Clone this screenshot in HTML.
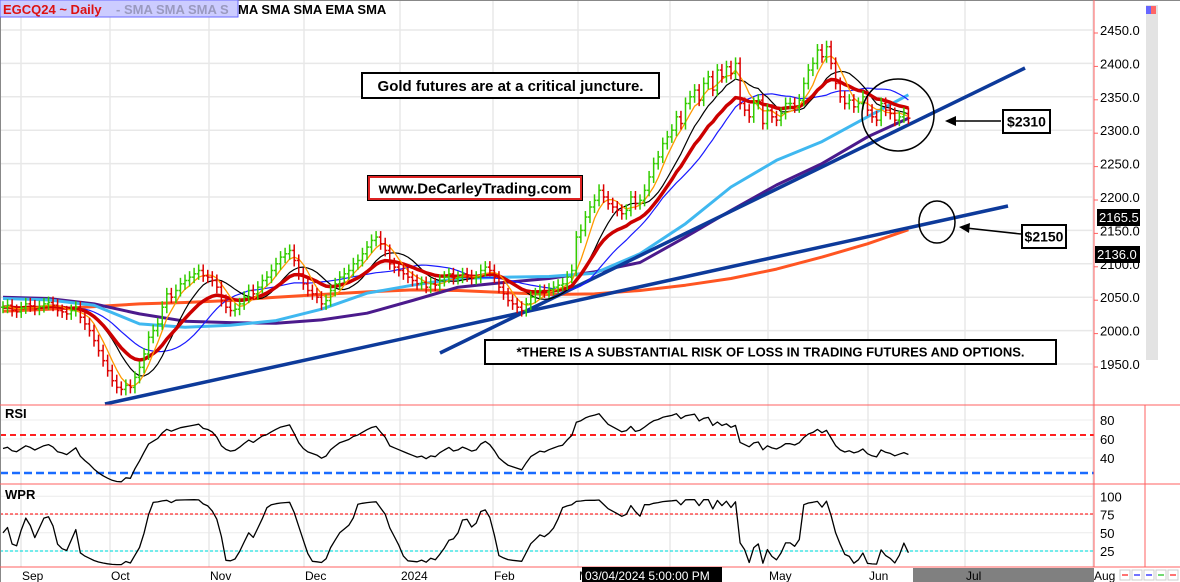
<!DOCTYPE html>
<html><head><meta charset="utf-8"><style>
html,body{margin:0;padding:0;background:#fff;}
body{width:1180px;height:582px;overflow:hidden;position:relative;font-family:"Liberation Sans",sans-serif;}
svg{position:absolute;left:0;top:0;}
</style></head><body>
<svg id="chart" width="1180" height="582" viewBox="0 0 1180 582" xmlns="http://www.w3.org/2000/svg"></svg>
<script>
// ---- data ----
const closes = [
2035,2038,2030,2028,2034,2040,2037,2032,2036,2040,
2042,2038,2030,2028,2025,2030,2035,2020,2010,2000,
1985,1970,1955,1940,1925,1915,1912,1918,1915,1930,
1945,1965,1990,2000,2010,2035,2055,2050,2060,2070,
2075,2080,2085,2090,2082,2080,2075,2065,2045,2035,
2030,2032,2040,2050,2060,2055,2065,2075,2080,2090,
2100,2110,2115,2120,2105,2085,2070,2060,2055,2050,
2040,2045,2060,2070,2080,2085,2090,2100,2105,2115,
2125,2135,2140,2130,2120,2100,2095,2090,2085,2080,
2075,2070,2072,2065,2070,2068,2075,2080,2085,2078,
2080,2085,2082,2078,2080,2090,2095,2090,2080,2065,
2055,2045,2040,2035,2030,2040,2050,2055,2060,2058,
2062,2065,2068,2070,2080,2090,2140,2150,2170,2185,
2195,2210,2200,2190,2185,2180,2175,2180,2200,2190,
2195,2210,2230,2250,2260,2280,2290,2300,2320,2310,
2340,2350,2360,2345,2370,2380,2360,2390,2380,2395,
2385,2400,2340,2330,2320,2340,2345,2310,2330,2320,
2315,2325,2340,2340,2335,2345,2370,2390,2400,2420,
2410,2425,2400,2370,2350,2340,2345,2335,2340,2350,
2330,2320,2315,2340,2330,2325,2315,2320,2325,2318];
const slowIdx = [0,10,20,30,40,50,60,70,80,90,100,110,120,130,140,150,160,170,180,190,199];
const sma50 = [2048,2046,2038,2010,2005,2008,2015,2032,2056,2068,2078,2080,2081,2086,2115,2160,2215,2255,2283,2320,2353];
const sma100 = [2050,2048,2040,2025,2014,2012,2011,2016,2026,2045,2065,2072,2078,2088,2102,2140,2180,2218,2250,2290,2318];
const sma200 = [2029,2032,2036,2040,2042,2045,2050,2054,2058,2061,2060,2057,2054,2055,2060,2068,2078,2092,2110,2130,2151];
const priceTicks = [1950,2000,2050,2100,2150,2200,2250,2300,2350,2400,2450];
const rsiTicks = [40,60,80];
const wprTicks = [25,50,75,100];
const monthLabels = ["Sep","Oct","Nov","Dec","2024","Feb","Mar","Apr","May","Jun","Jul","Aug"];
const monthX = [21,110,209,304,400,493,578,670,768,868,965,1093];

// ---- axes ----
const X0=3, DX=4.55;
const xb = i => X0 + DX*i;
const yp = p => 30 + (2450-p)*0.668;
const yr = v => 458 - (v-40)*0.95;
const yw = v => 551 - (v-25)*0.73;

const svg=document.getElementById('chart');
const NS='http://www.w3.org/2000/svg';
function mk(tag,attrs,parent){const e=document.createElementNS(NS,tag);for(const k in attrs)e.setAttribute(k,attrs[k]);(parent||svg).appendChild(e);return e;}

// grid
const grid=mk('g',{});


priceTicks.forEach(p=>mk('line',{x1:0,x2:1094,y1:yp(p),y2:yp(p),stroke:'#e8e8e8','stroke-width':1.5},grid));
[yr(40),yr(60),yr(80),yw(25),yw(50),yw(75),yw(100)].forEach(y=>mk('line',{x1:0,x2:1094,y1:y,y2:y,stroke:'#ececec','stroke-width':1},grid));
monthX.forEach(x=>mk('line',{x1:x,x2:x,y1:0,y2:567,stroke:'#e8e8e8','stroke-width':1.5},grid));

// moving averages
function sma(n){return closes.map((c,i)=>{let s=0,k=0;for(let j=Math.max(0,i-n+1);j<=i;j++){s+=closes[j];k++;}return s/k;});}
function ema(n){const a=2/(n+1);let e=closes[0];return closes.map(c=>e=e+a*(c-e));}
function poly(vals,xf,yf,color,w,name){
  const d=vals.map((v,i)=>(i?'L':'M')+xf(i).toFixed(1)+' '+yf(v).toFixed(1)).join(' ');
  const p=mk('path',{d:d,fill:'none',stroke:color,'stroke-width':w,'stroke-linejoin':'round'});
  
  
  return p;
}
poly(sma200,i=>xb(slowIdx[i]),yp,'#ff5522',3,'sma-200-line');
poly(sma100,i=>xb(slowIdx[i]),yp,'#4b1a8c',3,'sma-100-line');
poly(sma50,i=>xb(slowIdx[i]),yp,'#3fb8f0',3,'sma-50-line');

// trendlines
const tl1=mk('line',{x1:105,y1:404,x2:1008,y2:206,stroke:'#0d3a9a','stroke-width':3.5});


const tl2=mk('line',{x1:440,y1:353,x2:1025,y2:68,stroke:'#0d3a9a','stroke-width':3.5});



poly(sma(20),xb,yp,'#1a1aff',1.2,'sma-20-line');
poly(sma(10),xb,yp,'#000',1.2,'sma-10-line');
poly(ema(16),xb,yp,'#cc0000',3.5,'ema-line');
poly(sma(5),xb,yp,'#ff9900',1.3,'sma-5-line');

// price bars
const bars=mk('g',{});


const highs=[],lows=[];
closes.forEach((c,i)=>{
  const o=i?closes[i-1]:c;
  const h=Math.max(o,c)+9, l=Math.min(o,c)-9;
  highs.push(h);lows.push(l);
  const col=c>=o?'#33cc00':'#dd0000';
  const x=xb(i);
  const b=mk('g',{stroke:col,'stroke-width':1.5},bars);
  
  
  mk('line',{x1:x,x2:x,y1:yp(h),y2:yp(l)},b);
  mk('line',{x1:x-2,x2:x,y1:yp(o),y2:yp(o)},b);
  mk('line',{x1:x,x2:x+2,y1:yp(c),y2:yp(c)},b);
});

// RSI (warm-up seeded)
const rsi=[];{let ag=4,al=4;closes.forEach((c,i)=>{if(i===0){rsi.push(50);return;}const d=c-closes[i-1];const g=Math.max(d,0),l=Math.max(-d,0);ag=(ag*13+g)/14;al=(al*13+l)/14;rsi.push(al===0?100:100-100/(1+ag/al));});}
const wpr=closes.map((c,i)=>{let h=-1e9,l=1e9;for(let j=Math.max(0,i-13);j<=i;j++){h=Math.max(h,highs[j]);l=Math.min(l,lows[j]);}return h===l?50:100*(c-l)/(h-l);});

function dash(y,color,w,da,name){const e=mk('line',{x1:0,x2:1094,y1:y,y2:y,stroke:color,'stroke-width':w,'stroke-dasharray':da});}
dash(435,'#ff2020',2,'6 4','rsi-overbought-line');
dash(473,'#1a6cff',2.5,'8 4','rsi-oversold-line');
dash(514,'#ff3030',1.3,'3 2','wpr-overbought-line');
dash(551,'#20e0e0',1.3,'3 2','wpr-oversold-line');
poly(rsi,xb,yr,'#000',1.3,'rsi-line');
poly(wpr,xb,yw,'#000',1.3,'wpr-line');

// panel frames
mk('line',{x1:0.5,y1:0,x2:0.5,y2:582,stroke:'#888','stroke-width':1});
mk('line',{x1:0,y1:0.5,x2:1180,y2:0.5,stroke:'#888','stroke-width':1});
mk('line',{x1:1094,y1:0,x2:1094,y2:567,stroke:'#ff6060','stroke-width':1});
mk('line',{x1:0,y1:405,x2:1180,y2:405,stroke:'#ff6060','stroke-width':1});
mk('line',{x1:0,y1:484,x2:1180,y2:484,stroke:'#ff6060','stroke-width':1});
mk('line',{x1:0,y1:567,x2:1180,y2:567,stroke:'#ff6060','stroke-width':1});
mk('line',{x1:1145,y1:405,x2:1145,y2:567,stroke:'#ff6060','stroke-width':1});
mk('rect',{x:1146,y:5,width:12,height:355,fill:'#e3e3e3'});
mk('rect',{x:1146,y:6,width:5,height:8,fill:'#6666ff'});
mk('rect',{x:1151,y:6,width:5,height:8,fill:'#ff6666'});

function txt(x,y,s,attrs,name,inter){const t=mk('text',Object.assign({x:x,y:y,'font-family':'Liberation Sans, sans-serif'},attrs));t.textContent=s;return t;}
// axis labels
priceTicks.forEach(p=>{mk('line',{x1:1094,x2:1098,y1:yp(p)+3,y2:yp(p)+3,stroke:'#ff6060'});txt(1100,yp(p)+5,p.toFixed(1),{'font-size':13,fill:'#000'},'price-tick-label');});
rsiTicks.forEach(v=>txt(1100,yr(v)+5,String(v),{'font-size':13},'rsi-tick-label'));
wprTicks.forEach(v=>txt(1100,yw(v)+5,String(v),{'font-size':13},'wpr-tick-label'));
// last price tags
mk('rect',{x:1097,y:209,width:43,height:17,fill:'#000'});
txt(1099,222,'2165.5',{'font-size':13,fill:'#fff'},'last-price-tag');
mk('rect',{x:1095,y:246,width:45,height:17,fill:'#000'});
txt(1097,259,'2136.0',{'font-size':13,fill:'#fff'},'sma-price-tag');

// date axis
mk('rect',{x:913,y:568,width:181,height:14,fill:'#808080'});
monthLabels.forEach((m,i)=>txt(monthX[i]+1,580,m,{'font-size':12,fill:'#000'},'month-label'));
mk('rect',{x:582,y:567,width:140,height:15,fill:'#000'});
txt(585,580,'03/04/2024 5:00:00 PM',{'font-size':12,fill:'#fff'},'crosshair-date');
['#f44','#44f','#44f','#4c4','#f44'].forEach((c,i)=>{mk('rect',{x:1120+i*12,y:570,width:10,height:10,fill:'#fff',stroke:'#ccc'});mk('line',{x1:1122+i*12,x2:1128+i*12,y1:575,y2:575,stroke:c,'stroke-width':1.5});});

// panel titles
txt(5,418,'RSI',{'font-size':13,'font-weight':'bold'},'rsi-title');
txt(5,499,'WPR',{'font-size':13,'font-weight':'bold'},'wpr-title');

// header
mk('rect',{x:0,y:0,width:238,height:17,fill:'#ccccff',stroke:'#6a6aff','stroke-width':1});
txt(3,14,'EGCQ24 ~ Daily',{'font-size':13,'font-weight':'bold',fill:'#dd1111'},'symbol-title');
txt(116,14,'-  SMA SMA SMA S',{'font-size':13,'font-weight':'bold',fill:'#9a9ac0'},'indicator-list-faded');
txt(238,14,'MA SMA SMA EMA SMA',{'font-size':13,'font-weight':'bold',fill:'#000'},'indicator-list');

// annotations
function box(x,y,w,h,stroke,s,fs,name){mk('rect',{x:x,y:y,width:w,height:h,fill:'#fff',stroke:'#000','stroke-width':2});if(stroke!=='#000')mk('rect',{x:x+1,y:y+1,width:w-2,height:h-2,fill:'none',stroke:stroke,'stroke-width':2});txt(x+w/2,y+h/2+fs*0.36,s,{'font-size':fs,'font-weight':'bold','text-anchor':'middle'},name);}
box(362,73,297,25,'#000','Gold futures are at a critical juncture.',15,'annotation-critical-juncture');
box(368,176,214,24,'#dd2222','www.DeCarleyTrading.com',15,'website-label');
box(485,340,571,24,'#000','*THERE IS A SUBSTANTIAL RISK OF LOSS IN TRADING FUTURES AND OPTIONS.',13,'risk-disclaimer');
box(1003,110,47,23,'#000','$2310',14,'label-2310');
box(1022,225,44,23,'#000','$2150',14,'label-2150');
mk('ellipse',{cx:898,cy:115,rx:36,ry:36,fill:'none',stroke:'#000','stroke-width':1.5});
mk('ellipse',{cx:937,cy:222,rx:18,ry:21,fill:'none',stroke:'#000','stroke-width':1.5});
mk('line',{x1:1001,y1:121,x2:952,y2:121,stroke:'#000','stroke-width':1.5});
mk('polygon',{points:'945,121 956,116 956,126',fill:'#000'});
mk('line',{x1:1021,y1:234,x2:966,y2:228,stroke:'#000','stroke-width':1.5});
mk('polygon',{points:'959,227 970,223 969,233',fill:'#000'});
</script>
</body></html>
